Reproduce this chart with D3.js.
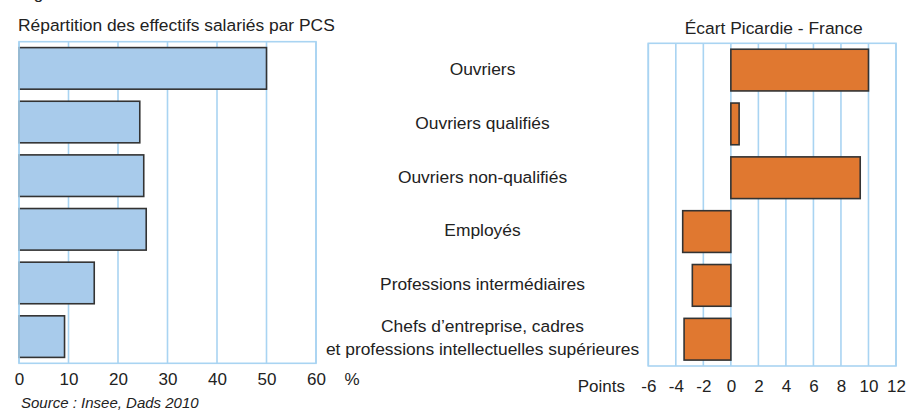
<!DOCTYPE html>
<html>
<head>
<meta charset="utf-8">
<script src="https://cdn.jsdelivr.net/npm/d3@7"></script>
<style>
  body { margin: 0; background: #fff; }
  svg text { font-family: "Liberation Sans", Arial, sans-serif; fill: #222; }
</style>
</head>
<body>
<div id="graph"></div>
<script>
// categories (top to bottom)
var categories = [
  ["Ouvriers"],
  ["Ouvriers qualifiés"],
  ["Ouvriers non-qualifiés"],
  ["Employés"],
  ["Professions intermédiaires"],
  ["Chefs d\u2019entreprise, cadres", "et professions intellectuelles supérieures"]
];
// part des effectifs salariés (%)
var partValues = [50.0, 24.4, 25.2, 25.7, 15.2, 9.2];
// écart Picardie - France (points)
var ecartValues = [10.0, 0.6, 9.4, -3.5, -2.8, -3.4];
var partTicks = [0, 10, 20, 30, 40, 50, 60];
var ecartTicks = [-6, -4, -2, 0, 2, 4, 6, 8, 10, 12];

var W = 908, H = 412;
var gridColor = "#a9d4f2";

var svg = d3.select("#graph").append("svg")
    .attr("width", W)
    .attr("height", H);

// cut-off figure title at the very top
svg.append("text")
    .attr("x", 19.5).attr("y", -1)
    .style("font-size", "17px")
    .text("Figure 2");

// ---- left chart
var xL = d3.scaleLinear().domain([0, 60]).range([19, 316]);
var yL = d3.scaleBand().domain(d3.range(categories.length))
    .range([41.7, 363.3]).paddingInner(0.225).paddingOuter(0.11);

var gL = svg.append("g");

gL.selectAll(".grid")
    .data(partTicks)
  .enter().append("line")
    .attr("x1", function(d) { return xL(d); })
    .attr("x2", function(d) { return xL(d); })
    .attr("y1", 41.7).attr("y2", 363.3)
    .attr("stroke", gridColor)
    .attr("stroke-width", 1.6);

gL.selectAll(".bar")
    .data(partValues)
  .enter().append("rect")
    .attr("x", xL(0))
    .attr("y", function(d, i) { return yL(i); })
    .attr("width", function(d) { return xL(d) - xL(0); })
    .attr("height", yL.bandwidth())
    .attr("fill", "#a8cbeb")
    .attr("stroke", "#333")
    .attr("stroke-width", 1.6);

gL.append("rect")
    .attr("x", xL(0)).attr("y", 41.7)
    .attr("width", xL(60) - xL(0)).attr("height", 363.3 - 41.7)
    .attr("fill", "none")
    .attr("stroke", gridColor)
    .attr("stroke-width", 1.6);

var axL = gL.append("g")
    .attr("transform", "translate(0,363.3)")
    .call(d3.axisBottom(xL).tickValues(partTicks).tickSize(0).tickPadding(0));
axL.select(".domain").remove();
axL.selectAll("text")
    .attr("y", 22).attr("dy", 0)
    .attr("fill", "#222")
    .style("font-size", "17px")
    .style("font-family", "Liberation Sans, Arial, sans-serif");

gL.append("text")
    .attr("x", 352).attr("y", 385.3)
    .attr("text-anchor", "middle")
    .style("font-size", "17px")
    .text("%");

gL.append("text")
    .attr("x", 18).attr("y", 30.7)
    .style("font-size", "17.4px")
    .text("Répartition des effectifs salariés par PCS");

gL.append("text")
    .attr("x", 21).attr("y", 408)
    .style("font-size", "15px")
    .style("font-style", "italic")
    .text("Source : Insee, Dads 2010");

// ---- category labels in the middle
var labels = svg.append("g");
labels.selectAll("text")
    .data(categories)
  .enter().append("text")
    .attr("x", 482.5)
    .attr("text-anchor", "middle")
    .style("font-size", "17.4px")
    .each(function(d, i) {
      var cy = yL(i) + yL.bandwidth() / 2;
      var t = d3.select(this);
      d.forEach(function(line, j) {
        t.append("tspan")
          .attr("x", 482.5)
          .attr("y", cy + 7 + (j - (d.length - 1) / 2) * 23)
          .text(line);
      });
    });

// ---- right chart
var xR = d3.scaleLinear().domain([-6, 12]).range([648.3, 896]);
var yR = d3.scaleBand().domain(d3.range(categories.length))
    .range([43.3, 366]).paddingInner(0.225).paddingOuter(0.11);

var gR = svg.append("g");

gR.selectAll(".grid")
    .data(ecartTicks)
  .enter().append("line")
    .attr("x1", function(d) { return xR(d); })
    .attr("x2", function(d) { return xR(d); })
    .attr("y1", 43.3).attr("y2", 366)
    .attr("stroke", gridColor)
    .attr("stroke-width", 1.6);

gR.selectAll(".bar")
    .data(ecartValues)
  .enter().append("rect")
    .attr("x", function(d) { return xR(Math.min(0, d)); })
    .attr("y", function(d, i) { return yR(i); })
    .attr("width", function(d) { return Math.abs(xR(d) - xR(0)); })
    .attr("height", yR.bandwidth())
    .attr("fill", "#e07830")
    .attr("stroke", "#333")
    .attr("stroke-width", 1.6);

gR.append("rect")
    .attr("x", xR(-6)).attr("y", 43.3)
    .attr("width", xR(12) - xR(-6)).attr("height", 366 - 43.3)
    .attr("fill", "none")
    .attr("stroke", gridColor)
    .attr("stroke-width", 1.6);

var axR = gR.append("g")
    .attr("transform", "translate(0,366)")
    .call(d3.axisBottom(xR).tickValues(ecartTicks).tickSize(0).tickPadding(0)
      .tickFormat(function(d) { return String(d); }));
axR.select(".domain").remove();
axR.selectAll("text")
    .attr("y", 25.7).attr("dy", 0)
    .attr("fill", "#222")
    .style("font-size", "17px")
    .style("font-family", "Liberation Sans, Arial, sans-serif");

gR.append("text")
    .attr("x", 625).attr("y", 391.7)
    .attr("text-anchor", "end")
    .style("font-size", "17px")
    .text("Points");

gR.append("text")
    .attr("x", 773.7).attr("y", 33.5)
    .attr("text-anchor", "middle")
    .style("font-size", "17.4px")
    .text("Écart Picardie - France");
</script>
</body>
</html>
